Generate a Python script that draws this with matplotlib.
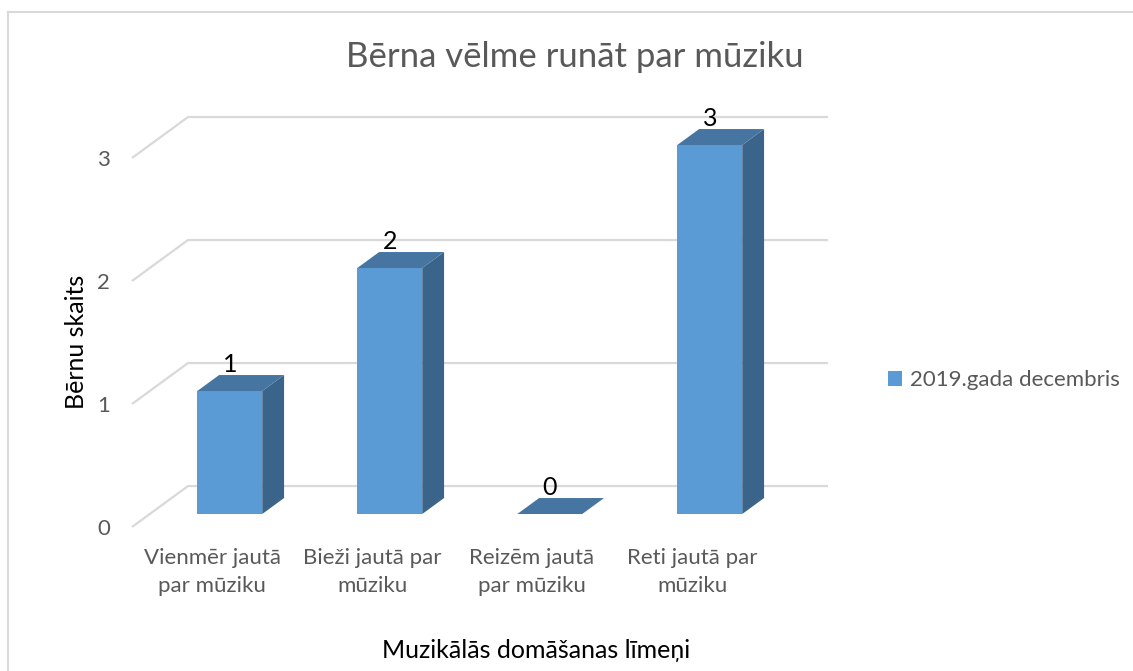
import matplotlib
matplotlib.use("Agg")
import matplotlib.pyplot as plt
from matplotlib.patches import Polygon, Patch
from matplotlib.lines import Line2D

# ---- data ----
categories = ["Vienmēr jautā\npar mūziku", "Bieži jautā par\nmūziku",
              "Reizēm jautā\npar mūziku", "Reti jautā par\nmūziku"]
values = [1, 2, 0, 3]
series_name = "2019.gada decembris"
yticks = [0, 1, 2, 3]
title = "Bērna vēlme runāt par mūziku"
xlabel = "Muzikālās domāšanas līmeņi"
ylabel = "Bērnu skaits"

# ---- style ----
FONT = ["Lato", "DejaVu Sans"]
plt.rcParams['font.family'] = FONT
FRONT = "#5B9BD5"
TOP = "#4675A2"
SIDE = "#3A6489"
GRID = "#D9D9D9"
TXT = "#595959"

W, H, DPI = 1133, 671, 100
fig = plt.figure(figsize=(W / DPI, H / DPI), dpi=DPI)

# projection geometry (in data units)
PX_X, PX_Y = 160.0, 123.0          # pixels per category / per value unit
X0_PX, Y0_PX = 132.0, 527.0        # front floor origin in pixels
XMAX, YMAX = 4.6, 3.6
DX, DY = 0.35, 0.333               # shift of back wall relative to front
Z0, Z1 = 0.317, 0.707              # bar depth range
BW = 0.406                         # bar width

ax = fig.add_axes([X0_PX / W, (H - Y0_PX) / H, XMAX * PX_X / W, YMAX * PX_Y / H])
ax.set_xlim(0, XMAX)
ax.set_ylim(0, YMAX)
for s in ax.spines.values():
    s.set_visible(False)

# gridlines (floor diagonal + back wall)
n = len(categories)
for v in yticks:
    ax.plot([0, DX, n + DX], [v, v + DY, v + DY], color=GRID, lw=1.6,
            solid_capstyle='butt', zorder=1, clip_on=False)

# bars
for i, v in enumerate(values):
    c = i + 0.5
    xl0 = c - BW / 2 + Z0 * DX
    xr0 = c + BW / 2 + Z0 * DX
    y0 = Z0 * DY
    sx = (Z1 - Z0) * DX
    y1 = Z1 * DY
    if v > 0:
        ax.add_patch(Polygon([(xl0, y0), (xr0, y0), (xr0, v + y0), (xl0, v + y0)],
                             closed=True, fc=FRONT, ec="none", zorder=3))
        ax.add_patch(Polygon([(xr0, y0), (xr0 + sx, y1), (xr0 + sx, v + y1), (xr0, v + y0)],
                             closed=True, fc=SIDE, ec="none", zorder=3))
    ax.add_patch(Polygon([(xl0, v + y0), (xr0, v + y0), (xr0 + sx, v + y1), (xl0 + sx, v + y1)],
                         closed=True, fc=TOP, ec="none", zorder=3))
    ax.annotate(str(v), xy=((xl0 + xr0) / 2, v + y1), xytext=(0, -1),
                textcoords="offset points", ha="center", va="bottom",
                fontsize=18, color="black", zorder=4)

ax.set_yticks(yticks)
ax.set_yticklabels([str(t) for t in yticks], fontsize=16, color=TXT)
ax.set_xticks([i + 0.5 for i in range(n)])
ax.set_xticklabels(categories, fontsize=16, color=TXT, linespacing=1.5)
ax.tick_params(axis="y", length=0, pad=16)
ax.tick_params(axis="x", length=0, pad=15)

# titles
fig.text(575 / W, 1 - 57 / H, title, ha="center", va="center", fontsize=25, color=TXT)
fig.text(536 / W, 1 - 650 / H, xlabel, ha="center", va="center", fontsize=18, color="black")
fig.text(77 / W, 1 - 342 / H, ylabel, ha="center", va="center", rotation=90,
         fontsize=18, color="black")

# legend
fig.legend(handles=[Patch(facecolor=FRONT, edgecolor="none")], labels=[series_name],
           loc="center left", bbox_to_anchor=(888 / W, 1 - 380 / H), frameon=False,
           handlelength=0.65, handleheight=0.65, handletextpad=0.35,
           borderaxespad=0, borderpad=0, fontsize=16, labelcolor=TXT)

# chart border (extends past right and bottom edges)
fig.add_artist(Line2D([7.5 / W, 1.0], [1 - 11.5 / H, 1 - 11.5 / H], color=GRID, lw=1.5,
                      transform=fig.transFigure))
fig.add_artist(Line2D([7.5 / W, 7.5 / W], [0.0, 1 - 11.5 / H], color=GRID, lw=1.5,
                      transform=fig.transFigure))

fig.savefig("out.png", dpi=DPI, facecolor="white")
